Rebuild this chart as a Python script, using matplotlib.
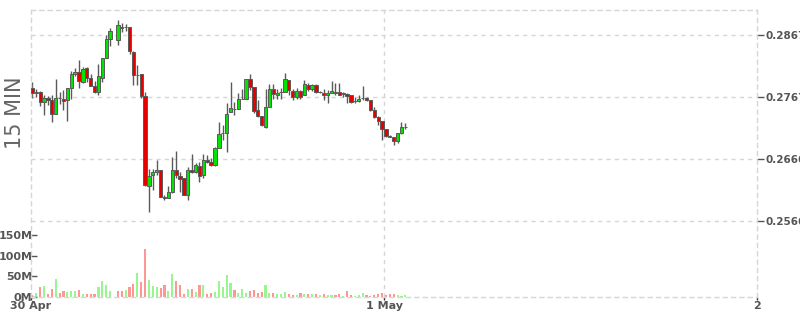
import numpy as np
import matplotlib.pyplot as plt

nan = np.nan

# 15 minute candles, 30 Apr -> 1 May (slot 21 has no trade)
opens = [0.27817, 0.27732, 0.27743, 0.27581, 0.27646, 0.27613, 0.27397, 0.27646, 0.27630, 0.27613,
         0.27817, 0.28034, 0.28067, 0.27905, 0.28131, 0.27969, 0.27850, 0.27743, 0.27979, 0.28303,
         0.28605, nan, 0.28584, 0.28804, 0.28804, 0.28804, 0.28390, 0.28023, 0.28044, 0.27688,
         0.26222, 0.26405, 0.26448, 0.26486, 0.26054, 0.26028, 0.26125, 0.26486, 0.26394, 0.26351,
         0.26081, 0.26491, 0.26448, 0.26555, 0.26405, 0.26643, 0.26610, 0.26567, 0.26847, 0.27080,
         0.27080, 0.27429, 0.27478, 0.27478, 0.27630, 0.27639, 0.27953, 0.27824, 0.27457, 0.27359,
         0.27186, 0.27510, 0.27791, 0.27694, 0.27748, 0.27748, 0.27942, 0.27769, 0.27662, 0.27759,
         0.27704, 0.27866, 0.27791, 0.27856, 0.27748, 0.27727, 0.27704, 0.27736, 0.27748, 0.27748,
         0.27727, 0.27715, 0.27694, 0.27597, 0.27607, 0.27651, 0.27651, 0.27618, 0.27457, 0.27338,
         0.27283, 0.27154, 0.27036, 0.27015, 0.26960, 0.27080, 0.27186]
highs = [0.27914, 0.27796, 0.27764, 0.27699, 0.27688, 0.27699, 0.27958, 0.27743, 0.27780, 0.27808,
         0.28088, 0.28131, 0.28266, 0.28157, 0.28157, 0.28034, 0.27926, 0.28196, 0.28303, 0.28670,
         0.28778, nan, 0.28913, 0.28859, 0.28843, 0.28804, 0.28411, 0.28185, 0.28044, 0.27743,
         0.26502, 0.26502, 0.26648, 0.26486, 0.26081, 0.26232, 0.26696, 0.26793, 0.26458, 0.26356,
         0.26539, 0.26740, 0.26594, 0.26620, 0.26740, 0.26728, 0.26685, 0.26863, 0.27257, 0.27214,
         0.27565, 0.27914, 0.27591, 0.27736, 0.27791, 0.27963, 0.28039, 0.27824, 0.27618, 0.27359,
         0.27791, 0.27877, 0.27877, 0.27801, 0.27812, 0.28050, 0.27942, 0.27801, 0.27812, 0.27780,
         0.27942, 0.27898, 0.27877, 0.27877, 0.27764, 0.27801, 0.27780, 0.27931, 0.27889, 0.27889,
         0.27748, 0.27727, 0.27694, 0.27662, 0.27704, 0.27845, 0.27662, 0.27618, 0.27510, 0.27359,
         0.27283, 0.27154, 0.27047, 0.27025, 0.27080, 0.27262, 0.27251]
lows = [0.27656, 0.27672, 0.27526, 0.27376, 0.27537, 0.27267, 0.27397, 0.27549, 0.27461, 0.27279,
        0.27635, 0.28012, 0.27808, 0.27889, 0.27914, 0.27840, 0.27727, 0.27699, 0.27914, 0.28303,
        0.28497, nan, 0.28508, 0.28723, 0.28735, 0.28367, 0.27861, 0.27861, 0.27656, 0.26232,
        0.25811, 0.26162, 0.26405, 0.26054, 0.26000, 0.26028, 0.26109, 0.26351, 0.26135, 0.26081,
        0.25995, 0.26432, 0.26432, 0.26296, 0.26361, 0.26594, 0.26555, 0.26555, 0.26837, 0.26971,
        0.26772, 0.27429, 0.27376, 0.27478, 0.27630, 0.27630, 0.27780, 0.27403, 0.27348, 0.27198,
        0.27160, 0.27510, 0.27639, 0.27630, 0.27630, 0.27748, 0.27694, 0.27618, 0.27630, 0.27639,
        0.27704, 0.27769, 0.27769, 0.27727, 0.27732, 0.27618, 0.27575, 0.27736, 0.27699, 0.27699,
        0.27672, 0.27575, 0.27575, 0.27575, 0.27586, 0.27618, 0.27597, 0.27445, 0.27322, 0.27219,
        0.26971, 0.27025, 0.27015, 0.26895, 0.26918, 0.27068, 0.27154]
closes = [0.27732, 0.27743, 0.27581, 0.27646, 0.27613, 0.27387, 0.27646, 0.27646, 0.27607, 0.27808,
          0.28034, 0.28067, 0.27926, 0.28120, 0.27969, 0.27850, 0.27743, 0.28002, 0.28303, 0.28605,
          0.28735, nan, 0.28832, 0.28778, 0.28804, 0.28411, 0.28023, 0.28023, 0.27688, 0.26243,
          0.26394, 0.26448, 0.26486, 0.26054, 0.26038, 0.26125, 0.26486, 0.26405, 0.26340, 0.26081,
          0.26491, 0.26448, 0.26567, 0.26384, 0.26643, 0.26610, 0.26567, 0.26847, 0.27063, 0.27080,
          0.27397, 0.27484, 0.27478, 0.27630, 0.27639, 0.27963, 0.27824, 0.27436, 0.27359, 0.27209,
          0.27510, 0.27801, 0.27715, 0.27736, 0.27748, 0.27953, 0.27780, 0.27662, 0.27759, 0.27662,
          0.27877, 0.27791, 0.27856, 0.27748, 0.27748, 0.27704, 0.27727, 0.27769, 0.27736, 0.27704,
          0.27715, 0.27683, 0.27586, 0.27597, 0.27639, 0.27651, 0.27618, 0.27457, 0.27338, 0.27283,
          0.27154, 0.27036, 0.27025, 0.26950, 0.27080, 0.27186, 0.27186]

# volume in millions, and the colour of each volume bar (g/r)
volume = [5, 9, 25, 27, 7, 20, 43.5, 10, 15, 13,
          14.5, 14.5, 17, 7, 7, 7, 7, 24, 38.7, 29,
          14.5, 0, 14.5, 14.5, 17, 24, 32, 58, 36, 116,
          41, 26.6, 24, 21.8, 29, 14.5, 55.6, 38.7, 29, 7,
          19, 19, 12, 29, 29, 7, 9.7, 12, 38.7, 24,
          53, 34, 17, 9.7, 19, 9.7, 14.5, 17, 9.7, 12,
          29, 9.7, 9.7, 7, 7, 12, 7, 5, 5, 9.7,
          7, 7, 7, 7, 5, 7, 5, 5, 5, 7,
          2.4, 14.5, 5, 2.4, 5, 9.7, 5, 2.4, 5, 7,
          9.7, 5, 7, 7, 5, 2.4, 5]
vol_dir = ("rgrgrrgrrg" "ggrgrrrggg" "ggrrgrrgrr" "gggrrggrrr" "grgrgrrggg"
           "ggrgggrrrr" "ggrgggrrgr" "grgrgrggrr" "grrgggrrrr" "rrrrggg")

price_ticks = [0.25661, 0.26664, 0.27667, 0.28670]
vol_ticks = [0, 50, 100, 150]
day_ticks = [-0.36, 90.5, 186.5]
day_labels = ['30 Apr', '1 May', '2']

o = np.array(opens)
h = np.array(highs)
l = np.array(lows)
c = np.array(closes)
x = np.arange(len(o))
ok = ~np.isnan(o)

fig = plt.figure(figsize=(8, 3.15), dpi=100)
fig.patch.set_facecolor('white')

grid_col = '#d6d6d6'
dash = (0, (3, 3))
txt_col = '#555555'

# volume panel
axv = fig.add_axes([0.03875, 0.05714, 0.9075, 0.24127])
axv.patch.set_alpha(0)
vcols = ['#98f68e' if d == 'g' else '#ff9696' for d in vol_dir]
axv.bar(x, volume, width=0.55, color=vcols, linewidth=0)
axv.set_xlim(-0.36, 186.5)
axv.set_ylim(0, 183.9)
for s in axv.spines.values():
    s.set_visible(False)
axv.set_yticks(vol_ticks)
axv.set_yticklabels([f'{v}M' for v in vol_ticks])
axv.tick_params(axis='y', direction='in', length=4, width=1, color=txt_col,
                labelcolor=txt_col, labelsize=8, pad=-1)
axv.set_xticks(day_ticks)
axv.set_xticklabels(day_labels)
axv.tick_params(axis='x', direction='out', length=2, width=1, color='#333333',
                labelcolor=txt_col, labelsize=8, pad=1)
for lab in axv.get_yticklabels() + axv.get_xticklabels():
    lab.set_fontweight('bold')

# price panel
ax = fig.add_axes([0.03875, 0.05714, 0.9075, 0.91111])
ax.patch.set_alpha(0)
ax.set_xlim(-0.36, 186.5)
ax.set_ylim(0.24431, 0.29075)
for s in ax.spines.values():
    s.set_color(grid_col)
    s.set_linestyle(dash)
    s.set_linewidth(1)
ax.set_xticks([])
ax.yaxis.tick_right()
ax.set_yticks(price_ticks)
ax.set_yticklabels([f'{p:.4f}' for p in price_ticks])
ax.tick_params(axis='y', direction='out', length=5, width=1, color=txt_col,
               labelcolor=txt_col, labelsize=7.5, pad=1)
for lab in ax.get_yticklabels():
    lab.set_fontweight('bold')
ax.grid(axis='y', color=grid_col, linestyle=dash, linewidth=1)
ax.axvline(90.5, color=grid_col, linestyle=dash, linewidth=1)

ax.vlines(x[ok], l[ok], h[ok], color='#5a5a5a', linewidth=1, zorder=2)
ccols = np.where(c[ok] >= o[ok], '#00e400', '#e80000')
ax.bar(x[ok], np.abs(c[ok] - o[ok]), bottom=np.minimum(o[ok], c[ok]), width=0.85,
       color=ccols, edgecolor='#5a5a5a', linewidth=0.7, zorder=3)

fig.text(15 / 800, 1 - 113 / 315, '15 MIN', rotation=90, ha='center', va='center',
         fontsize=15, color='#666666')

fig.savefig('out.png', dpi=100)
